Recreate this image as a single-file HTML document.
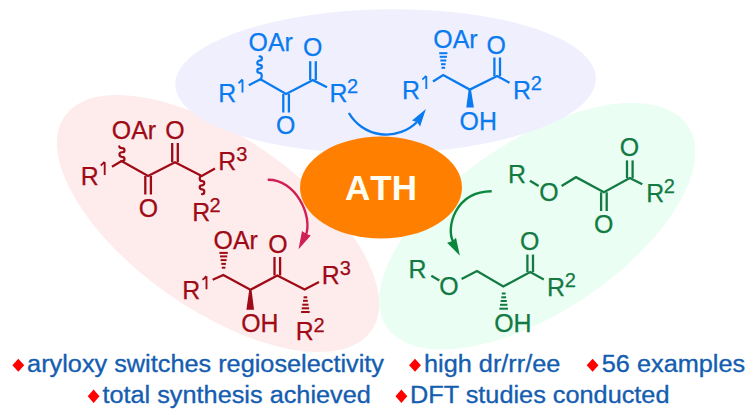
<!DOCTYPE html>
<html><head><meta charset="utf-8"><style>
html,body{margin:0;padding:0;background:#fff;width:749px;height:414px;overflow:hidden}
svg{display:block}
text{font-family:"Liberation Sans",sans-serif}
</style></head><body>
<svg width="749" height="414" viewBox="0 0 749 414" font-family="Liberation Sans, sans-serif">
<rect width="749" height="414" fill="#ffffff"/>
<ellipse cx="218.0" cy="223.5" rx="187.2" ry="86.3" transform="rotate(35.0 218.0 223.5)" fill="#feecec"/>
<ellipse cx="537.2" cy="226.2" rx="181.1" ry="86.0" transform="rotate(-33.7 537.2 226.2)" fill="#eafef3"/>
<ellipse cx="385.6" cy="81.4" rx="210.3" ry="72.1" transform="rotate(-0.9 385.6 81.4)" fill="#f0effe"/>
<ellipse cx="381" cy="187.5" rx="81" ry="51" fill="#ff8000"/>
<text x="345.0" y="199.7" fill="#fffdf2" font-size="35.0" font-weight="bold" style="font-kerning:none">ATH</text>
<polyline points="248.80,85.20 260.50,79.30 286.10,94.00 313.00,80.10 327.00,87.20" fill="none" stroke="#0a7bef" stroke-width="2.3" stroke-linejoin="miter" stroke-miterlimit="4"/>
<line x1="283.30" y1="94.00" x2="283.30" y2="112.50" stroke="#0a7bef" stroke-width="2.3"/>
<line x1="288.90" y1="94.00" x2="288.90" y2="112.50" stroke="#0a7bef" stroke-width="2.3"/>
<line x1="315.80" y1="80.10" x2="315.80" y2="61.20" stroke="#0a7bef" stroke-width="2.3"/>
<line x1="310.20" y1="80.10" x2="310.20" y2="61.20" stroke="#0a7bef" stroke-width="2.3"/>
<path d="M260.50,79.30 L259.60,79.30 A2.30,3.23 0 0 0 259.60,72.85 A2.30,2.12 0 0 1 259.60,68.60 A2.30,1.90 0 0 0 259.60,64.80 A2.30,2.10 0 0 1 259.60,60.60 A2.30,2.10 0 0 0 259.60,56.40 " fill="none" stroke="#0a7bef" stroke-width="2.2" stroke-linecap="round"/>
<text x="248.52" y="51.27" fill="#0a7bef" stroke="#0a7bef" stroke-width="0.25" font-size="24.9">OAr</text>
<text x="218.27" y="102.37" fill="#0a7bef" stroke="#0a7bef" stroke-width="0.25" font-size="24.9">R</text>
<path d="M242.50,92.60 V79.60 M242.30,79.40 Q240.50,81.80 238.50,83.10" fill="none" stroke="#0a7bef" stroke-width="1.85"/>
<text x="276.12" y="134.07" fill="#0a7bef" stroke="#0a7bef" stroke-width="0.25" font-size="24.9">O</text>
<text x="302.92" y="56.17" fill="#0a7bef" stroke="#0a7bef" stroke-width="0.25" font-size="24.9">O</text>
<text x="329.47" y="102.37" fill="#0a7bef" stroke="#0a7bef" stroke-width="0.25" font-size="24.9">R</text>
<text x="347.04" y="93.38" fill="#0a7bef" stroke="#0a7bef" stroke-width="0.25" font-size="20.0">2</text>
<polyline points="433.00,81.50 443.20,75.00 469.80,89.60 497.20,76.00 509.50,82.80" fill="none" stroke="#0a7bef" stroke-width="2.3" stroke-linejoin="miter" stroke-miterlimit="4"/>
<line x1="500.00" y1="76.00" x2="500.00" y2="57.50" stroke="#0a7bef" stroke-width="2.3"/>
<line x1="494.40" y1="76.00" x2="494.40" y2="57.50" stroke="#0a7bef" stroke-width="2.3"/>
<rect x="439.20" y="52.20" width="8.20" height="2.0" fill="#0a7bef"/>
<rect x="439.70" y="55.80" width="7.20" height="2.0" fill="#0a7bef"/>
<rect x="440.30" y="59.50" width="6.00" height="2.0" fill="#0a7bef"/>
<rect x="441.00" y="63.20" width="4.60" height="2.0" fill="#0a7bef"/>
<rect x="441.50" y="66.80" width="3.60" height="2.0" fill="#0a7bef"/>
<polygon points="468.65,89.62 466.30,107.56 473.90,107.44 470.95,89.58" fill="#0a7bef"/>
<text x="433.32" y="47.97" fill="#0a7bef" stroke="#0a7bef" stroke-width="0.25" font-size="24.9">OAr</text>
<text x="402.07" y="98.77" fill="#0a7bef" stroke="#0a7bef" stroke-width="0.25" font-size="24.9">R</text>
<path d="M426.30,89.00 V76.00 M426.10,75.80 Q424.30,78.20 422.30,79.50" fill="none" stroke="#0a7bef" stroke-width="1.85"/>
<text x="486.62" y="53.57" fill="#0a7bef" stroke="#0a7bef" stroke-width="0.25" font-size="24.9">O</text>
<text x="512.97" y="99.47" fill="#0a7bef" stroke="#0a7bef" stroke-width="0.25" font-size="24.9">R</text>
<text x="530.64" y="90.38" fill="#0a7bef" stroke="#0a7bef" stroke-width="0.25" font-size="20.0">2</text>
<text x="459.62" y="129.67" fill="#0a7bef" stroke="#0a7bef" stroke-width="0.25" font-size="24.9">OH</text>
<path d="M348.9,113 A43.4,43.4 0 0 0 417.0,122.0" fill="none" stroke="#0a7bef" stroke-width="2.4"/>
<polygon points="425.90,108.90 412.00,120.60 417.00,122.00 420.10,126.50" fill="#0a7bef"/>
<polyline points="112.00,166.70 121.50,161.00 148.10,176.00 175.00,162.20 201.70,176.00 215.00,168.60" fill="none" stroke="#9e0a16" stroke-width="2.3" stroke-linejoin="miter" stroke-miterlimit="4"/>
<line x1="145.30" y1="176.00" x2="145.30" y2="194.50" stroke="#9e0a16" stroke-width="2.3"/>
<line x1="150.90" y1="176.00" x2="150.90" y2="194.50" stroke="#9e0a16" stroke-width="2.3"/>
<line x1="177.80" y1="162.20" x2="177.80" y2="143.00" stroke="#9e0a16" stroke-width="2.3"/>
<line x1="172.20" y1="162.20" x2="172.20" y2="143.00" stroke="#9e0a16" stroke-width="2.3"/>
<path d="M121.50,161.20 L121.90,161.20 A2.60,2.20 0 0 0 121.90,156.80 A2.60,2.28 0 0 1 121.90,152.25 A2.60,2.07 0 0 0 121.90,148.10 A2.60,1.80 0 0 1 119.30,146.30 " fill="none" stroke="#9e0a16" stroke-width="2.2" stroke-linecap="round"/>
<path d="M201.70,176.00 L202.00,176.00 A2.30,2.55 0 0 0 202.00,181.10 A2.30,2.10 0 0 1 202.00,185.30 A2.30,2.00 0 0 0 202.00,189.30 A2.30,2.45 0 0 1 202.00,194.20 " fill="none" stroke="#9e0a16" stroke-width="2.2" stroke-linecap="round"/>
<text x="111.82" y="139.27" fill="#9e0a16" stroke="#9e0a16" stroke-width="0.25" font-size="24.9">OAr</text>
<text x="80.67" y="184.77" fill="#9e0a16" stroke="#9e0a16" stroke-width="0.25" font-size="24.9">R</text>
<path d="M104.70,175.00 V162.00 M104.50,161.80 Q102.70,164.20 100.70,165.50" fill="none" stroke="#9e0a16" stroke-width="1.85"/>
<text x="138.72" y="216.57" fill="#9e0a16" stroke="#9e0a16" stroke-width="0.25" font-size="24.9">O</text>
<text x="165.32" y="139.27" fill="#9e0a16" stroke="#9e0a16" stroke-width="0.25" font-size="24.9">O</text>
<text x="218.37" y="170.07" fill="#9e0a16" stroke="#9e0a16" stroke-width="0.25" font-size="24.9">R</text>
<text x="236.20" y="160.78" fill="#9e0a16" stroke="#9e0a16" stroke-width="0.25" font-size="20.0">3</text>
<text x="192.37" y="220.67" fill="#9e0a16" stroke="#9e0a16" stroke-width="0.25" font-size="24.9">R</text>
<text x="209.44" y="212.38" fill="#9e0a16" stroke="#9e0a16" stroke-width="0.25" font-size="20.0">2</text>
<path d="M267.7,179.7 C295.0,179.2 312.8,214.7 306.0,235.0" fill="none" stroke="#d01f52" stroke-width="2.4"/>
<polygon points="298.50,249.20 302.00,231.00 306.30,234.00 310.80,235.40" fill="#d01f52"/>
<polyline points="212.70,279.80 223.30,275.00 250.40,289.80 277.30,275.50 304.60,289.40 319.00,282.00" fill="none" stroke="#9e0a16" stroke-width="2.3" stroke-linejoin="miter" stroke-miterlimit="4"/>
<line x1="280.10" y1="275.50" x2="280.10" y2="257.00" stroke="#9e0a16" stroke-width="2.3"/>
<line x1="274.50" y1="275.50" x2="274.50" y2="257.00" stroke="#9e0a16" stroke-width="2.3"/>
<rect x="219.40" y="251.90" width="8.40" height="2.0" fill="#9e0a16"/>
<rect x="220.00" y="255.40" width="7.20" height="2.0" fill="#9e0a16"/>
<rect x="220.60" y="259.10" width="6.00" height="2.0" fill="#9e0a16"/>
<rect x="221.30" y="262.90" width="4.60" height="2.0" fill="#9e0a16"/>
<rect x="221.80" y="266.70" width="3.60" height="2.0" fill="#9e0a16"/>
<rect x="301.10" y="311.00" width="8.60" height="2.0" fill="#9e0a16"/>
<rect x="301.70" y="307.30" width="7.40" height="2.0" fill="#9e0a16"/>
<rect x="302.30" y="303.70" width="6.20" height="2.0" fill="#9e0a16"/>
<rect x="303.00" y="299.80" width="4.80" height="2.0" fill="#9e0a16"/>
<rect x="303.60" y="296.30" width="3.60" height="2.0" fill="#9e0a16"/>
<polygon points="249.25,289.79 246.40,309.76 254.00,309.84 251.55,289.81" fill="#9e0a16"/>
<text x="213.62" y="249.07" fill="#9e0a16" stroke="#9e0a16" stroke-width="0.25" font-size="24.9">OAr</text>
<text x="182.27" y="299.07" fill="#9e0a16" stroke="#9e0a16" stroke-width="0.25" font-size="24.9">R</text>
<path d="M206.50,289.30 V276.30 M206.30,276.10 Q204.50,278.50 202.50,279.80" fill="none" stroke="#9e0a16" stroke-width="1.85"/>
<text x="268.22" y="253.37" fill="#9e0a16" stroke="#9e0a16" stroke-width="0.25" font-size="24.9">O</text>
<text x="241.22" y="332.07" fill="#9e0a16" stroke="#9e0a16" stroke-width="0.25" font-size="24.9">OH</text>
<text x="321.77" y="284.47" fill="#9e0a16" stroke="#9e0a16" stroke-width="0.25" font-size="24.9">R</text>
<text x="339.70" y="275.38" fill="#9e0a16" stroke="#9e0a16" stroke-width="0.25" font-size="20.0">3</text>
<text x="295.87" y="340.47" fill="#9e0a16" stroke="#9e0a16" stroke-width="0.25" font-size="24.9">R</text>
<text x="313.44" y="331.88" fill="#9e0a16" stroke="#9e0a16" stroke-width="0.25" font-size="20.0">2</text>
<text x="507.97" y="182.87" fill="#127a42" stroke="#127a42" stroke-width="0.25" font-size="24.9">R</text>
<line x1="530.00" y1="180.70" x2="538.60" y2="186.00" stroke="#127a42" stroke-width="2.3"/>
<text x="539.32" y="200.77" fill="#127a42" stroke="#127a42" stroke-width="0.25" font-size="24.9">O</text>
<polyline points="561.60,186.00 576.00,177.20 603.90,192.30 629.80,178.00 642.30,184.30" fill="none" stroke="#127a42" stroke-width="2.3" stroke-linejoin="miter" stroke-miterlimit="4"/>
<line x1="601.10" y1="192.30" x2="601.10" y2="211.00" stroke="#127a42" stroke-width="2.3"/>
<line x1="606.70" y1="192.30" x2="606.70" y2="211.00" stroke="#127a42" stroke-width="2.3"/>
<line x1="632.60" y1="178.00" x2="632.60" y2="160.40" stroke="#127a42" stroke-width="2.3"/>
<line x1="627.00" y1="178.00" x2="627.00" y2="160.40" stroke="#127a42" stroke-width="2.3"/>
<text x="593.92" y="232.87" fill="#127a42" stroke="#127a42" stroke-width="0.25" font-size="24.9">O</text>
<text x="619.72" y="155.87" fill="#127a42" stroke="#127a42" stroke-width="0.25" font-size="24.9">O</text>
<text x="646.17" y="202.07" fill="#127a42" stroke="#127a42" stroke-width="0.25" font-size="24.9">R</text>
<text x="663.84" y="193.48" fill="#127a42" stroke="#127a42" stroke-width="0.25" font-size="20.0">2</text>
<path d="M491.7,191.3 C454.4,191.7 446.1,228.0 453.0,241.5" fill="none" stroke="#0b873d" stroke-width="2.4"/>
<polygon points="459.90,255.70 447.10,242.80 452.60,241.00 456.00,237.80" fill="#0b873d"/>
<text x="408.57" y="277.57" fill="#127a42" stroke="#127a42" stroke-width="0.25" font-size="24.9">R</text>
<line x1="431.30" y1="275.70" x2="439.30" y2="280.40" stroke="#127a42" stroke-width="2.3"/>
<text x="439.32" y="295.17" fill="#127a42" stroke="#127a42" stroke-width="0.25" font-size="24.9">O</text>
<polyline points="461.60,279.00 477.00,271.00 503.30,286.50 530.20,272.00 543.80,279.40" fill="none" stroke="#127a42" stroke-width="2.3" stroke-linejoin="miter" stroke-miterlimit="4"/>
<line x1="533.00" y1="272.00" x2="533.00" y2="254.60" stroke="#127a42" stroke-width="2.3"/>
<line x1="527.40" y1="272.00" x2="527.40" y2="254.60" stroke="#127a42" stroke-width="2.3"/>
<rect x="499.40" y="307.70" width="8.60" height="2.0" fill="#127a42"/>
<rect x="500.00" y="303.80" width="7.40" height="2.0" fill="#127a42"/>
<rect x="500.60" y="300.00" width="6.20" height="2.0" fill="#127a42"/>
<rect x="501.30" y="296.30" width="4.80" height="2.0" fill="#127a42"/>
<rect x="501.80" y="292.50" width="3.80" height="2.0" fill="#127a42"/>
<text x="520.12" y="250.07" fill="#127a42" stroke="#127a42" stroke-width="0.25" font-size="24.9">O</text>
<text x="494.22" y="331.97" fill="#127a42" stroke="#127a42" stroke-width="0.25" font-size="24.9">OH</text>
<text x="547.07" y="295.57" fill="#127a42" stroke="#127a42" stroke-width="0.25" font-size="24.9">R</text>
<text x="564.74" y="287.08" fill="#127a42" stroke="#127a42" stroke-width="0.25" font-size="20.0">2</text>
<polygon points="18.3,358.7 24.200000000000003,365.2 18.3,371.7 12.4,365.2" fill="#ff0000"/>
<text transform="translate(27.12,372.4) scale(1,0.955)" x="0" y="0" fill="#145db0" stroke="#145db0" stroke-width="0.35" font-size="25.3">aryloxy switches regioselectivity</text>
<polygon points="415.0,358.7 420.9,365.2 415.0,371.7 409.1,365.2" fill="#ff0000"/>
<text transform="translate(424.05,372.4) scale(1,0.955)" x="0" y="0" fill="#145db0" stroke="#145db0" stroke-width="0.35" font-size="25.3">high dr/rr/ee</text>
<polygon points="592.6,358.7 598.5,365.2 592.6,371.7 586.7,365.2" fill="#ff0000"/>
<text transform="translate(601.79,372.4) scale(1,0.955)" x="0" y="0" fill="#145db0" stroke="#145db0" stroke-width="0.35" font-size="25.3">56 examples</text>
<polygon points="93.6,389.6 99.5,396.3 93.6,403.0 87.69999999999999,396.3" fill="#ff0000"/>
<text transform="translate(102.42,403.0) scale(1,0.955)" x="0" y="0" fill="#145db0" stroke="#145db0" stroke-width="0.35" font-size="25.3">total synthesis achieved</text>
<polygon points="401.4,389.6 407.29999999999995,396.3 401.4,403.0 395.5,396.3" fill="#ff0000"/>
<text transform="translate(409.98,403.0) scale(1,0.955)" x="0" y="0" fill="#145db0" stroke="#145db0" stroke-width="0.35" font-size="25.3">DFT studies conducted</text>
</svg>
</body></html>
